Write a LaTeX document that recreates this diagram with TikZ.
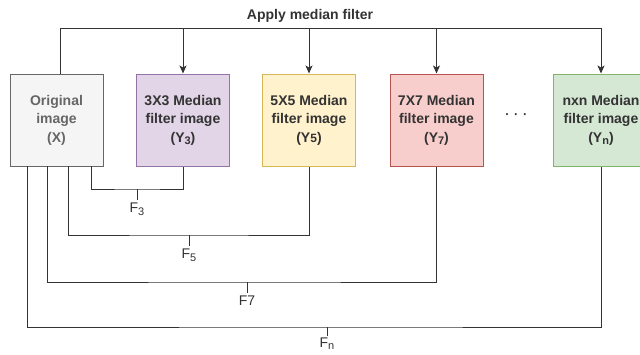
\documentclass[tikz,border=0pt]{standalone}
\usepackage{fontspec}
\setmainfont{Liberation Sans}
\usetikzlibrary{arrows.meta}
\definecolor{lin}{HTML}{333333}
\definecolor{txt}{HTML}{333333}
\definecolor{otxt}{HTML}{666666}
\definecolor{ofill}{HTML}{F5F5F5}\definecolor{odraw}{HTML}{666666}
\definecolor{pfill}{HTML}{E1D5E7}\definecolor{pdraw}{HTML}{9673A6}
\definecolor{yfill}{HTML}{FFF2CC}\definecolor{ydraw}{HTML}{D6B656}
\definecolor{rfill}{HTML}{F8CECC}\definecolor{rdraw}{HTML}{B85450}
\definecolor{gfill}{HTML}{D5E8D4}\definecolor{gdraw}{HTML}{82B366}
\newcommand{\mysub}[1]{\raisebox{-2.5pt}{\fontsize{11}{11}\selectfont #1}}
\begin{document}
\begin{tikzpicture}[x=1pt,y=-1pt,
 box/.style={draw, line width=1pt, minimum width=93pt, minimum height=92pt, align=center,
   font=\fontsize{14}{18.5}\selectfont\bfseries, text=txt, inner sep=0pt},
 wire/.style={draw=lin, line width=1pt},
 arr/.style={wire, -{Stealth[length=8pt,width=7pt,inset=2pt]}},
 flab/.style={font=\fontsize{14}{16}\selectfont, text=txt, inner sep=0pt, anchor=north}]
\useasboundingbox (0,0) rectangle (640,354);
% boxes
\node[box, fill=ofill, draw=odraw, text=otxt] (O) at (56.5,120) {Original\\image\\(X)};
\node[box, fill=pfill, draw=pdraw] (Y3) at (183,120) {3X3 Median\\filter image\\(Y\mysub{3})};
\node[box, fill=yfill, draw=ydraw] (Y5) at (309,120) {5X5 Median\\filter image\\(Y{\fontsize{12}{12}\selectfont 5})};
\node[box, fill=rfill, draw=rdraw] (Y7) at (436.5,120) {7X7 Median\\filter image\\(Y\mysub{7})};
\node[box, fill=gfill, draw=gdraw, minimum width=96pt] (Yn) at (601,120) {nxn Median\\filter image\\(Y\mysub{n})};
\node[font=\fontsize{18}{18}\selectfont, text=txt, inner sep=0pt] (dots) at (516,117) {·\,·\,·};
% top distribution
\node[font=\fontsize{14}{14}\selectfont\bfseries, text=txt, inner sep=0pt] (apply) at (310,16) {Apply median filter};
\coordinate (ot) at (60,74);
\coordinate (tr) at (601,28);
\draw[wire] (ot) |- (tr);
\draw[arr] (tr) -- (Yn.north);
\foreach \n in {Y3,Y5,Y7} \draw[arr] (\n.north |- tr) -- (\n.north);
% bottom combinations
\coordinate (o3) at (91,166);  \coordinate (b3) at (137,189);
\coordinate (o5) at (68,166);  \coordinate (b5) at (189,235);
\coordinate (o7) at (47,166);  \coordinate (b7) at (247,282);
\coordinate (on) at (27,166);  \coordinate (bn) at (327,327);
\draw[wire] (o3) |- (b3) -| (Y3.south);
\draw[wire] (o5) |- (b5) -| (Y5.south);
\draw[wire] (o7) |- (b7) -| (Y7.south);
\draw[wire] (on) |- (bn) -| (Yn.south);
\draw[wire] (b3) -- ++(0,11) coordinate (t3);
\draw[wire] (b5) -- ++(0,11) coordinate (t5);
\draw[wire] (b7) -- ++(0,11) coordinate (t7);
\draw[wire] (bn) -- ++(0,9) coordinate (tn);
\node[flab] (F3) at ([yshift=-3pt]t3) {F\mysub{3}};
\node[flab] (F5) at ([yshift=-3pt]t5) {F\mysub{5}};
\node[flab] (F7) at ([yshift=-3pt]t7) {F7};
\node[flab] (Fn) at ([yshift=-1.5pt]tn) {F\mysub{n}};
\end{tikzpicture}
\end{document}
